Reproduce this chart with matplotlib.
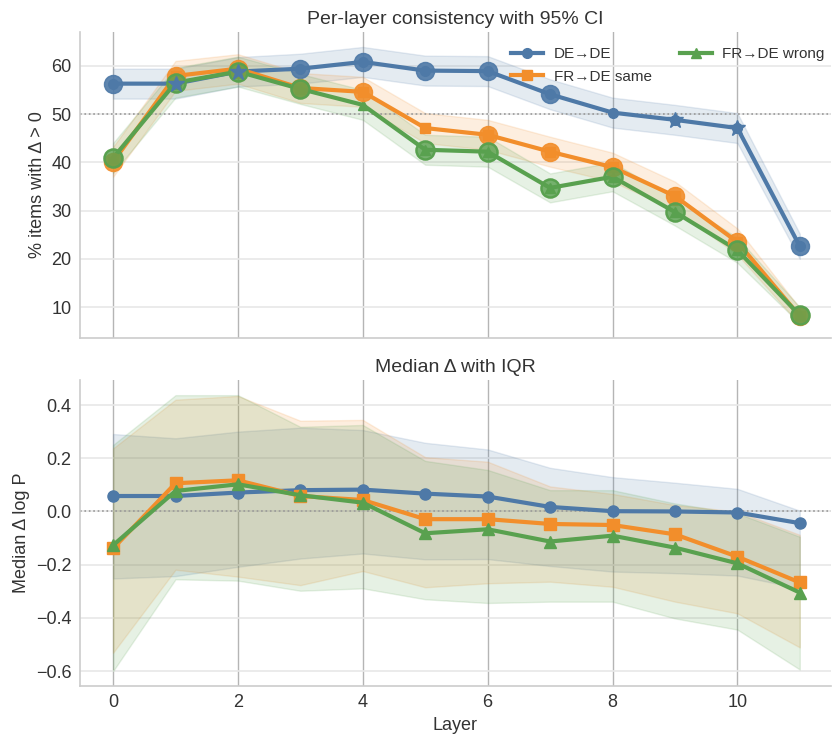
import matplotlib
matplotlib.use("Agg")
import matplotlib.pyplot as plt
import numpy as np
from matplotlib.colors import to_rgba

plt.rcParams['font.family'] = ['Liberation Sans', 'DejaVu Sans']
plt.rcParams['text.color'] = '#333333'
plt.rcParams['axes.labelcolor'] = '#333333'
plt.rcParams['xtick.color'] = '#333333'
plt.rcParams['ytick.color'] = '#333333'

layers = np.arange(12)
names = ['DE→DE', 'FR→DE same', 'FR→DE wrong']
colors = ['#4E79A7', '#F28E2B', '#59A14F']
base_markers = ['o', 's', '^']

# top panel: % items with delta > 0, with 95% CI
pct_de = [56.3, 56.3, 58.8, 59.4, 60.8, 59.0, 58.9, 54.1, 50.3, 48.8, 47.1, 22.6]
pct_de_lo = [53.2, 53.2, 55.7, 56.3, 57.7, 55.9, 55.8, 51.0, 47.2, 45.7, 44.0, 20.0]
pct_de_hi = [59.4, 59.4, 61.8, 62.5, 63.9, 62.1, 62.0, 57.2, 53.4, 51.9, 50.2, 25.2]
pct_same = [40.1, 57.9, 59.4, 55.4, 54.6, 47.1, 45.7, 42.2, 39.0, 33.0, 23.5, 8.1]
pct_same_lo = [37.0, 54.8, 56.3, 52.3, 51.5, 44.0, 42.6, 39.1, 36.0, 30.1, 20.9, 6.4]
pct_same_hi = [43.2, 61.0, 62.4, 58.5, 57.7, 50.2, 48.8, 45.3, 42.0, 36.0, 26.3, 9.8]
pct_wrong = [40.9, 56.5, 58.8, 55.2, 51.9, 42.6, 42.2, 34.7, 37.0, 29.7, 21.8, 8.3]
pct_wrong_lo = [37.8, 53.4, 55.7, 52.1, 48.8, 39.5, 39.1, 31.7, 34.0, 26.9, 19.2, 6.6]
pct_wrong_hi = [44.0, 59.6, 61.9, 58.3, 55.0, 45.7, 45.3, 37.7, 40.0, 32.5, 24.4, 10.0]

# which points get the big circle / star overlay
circle_de = [0, 3, 4, 5, 6, 7, 11]
star_de = [1, 2, 9, 10]
circle_same = [0, 1, 2, 3, 4, 6, 7, 8, 9, 10, 11]
circle_wrong = [0, 1, 2, 3, 5, 6, 7, 8, 9, 10, 11]

# bottom panel: median delta log P with IQR
med_de = [0.058, 0.058, 0.071, 0.080, 0.082, 0.067, 0.056, 0.017, 0.001, 0.000, -0.004, -0.044]
q1_de = [-0.252, -0.243, -0.208, -0.177, -0.158, -0.180, -0.179, -0.205, -0.226, -0.232, -0.241, -0.289]
q3_de = [0.291, 0.275, 0.300, 0.315, 0.306, 0.258, 0.233, 0.164, 0.129, 0.108, 0.085, 0.003]
med_same = [-0.139, 0.106, 0.117, 0.058, 0.043, -0.029, -0.029, -0.047, -0.051, -0.086, -0.170, -0.267]
q1_same = [-0.531, -0.219, -0.245, -0.277, -0.224, -0.285, -0.270, -0.264, -0.283, -0.339, -0.383, -0.511]
q3_same = [0.237, 0.420, 0.434, 0.341, 0.344, 0.204, 0.187, 0.094, 0.066, 0.024, 0.000, -0.088]
med_wrong = [-0.127, 0.077, 0.102, 0.061, 0.033, -0.082, -0.067, -0.113, -0.091, -0.136, -0.195, -0.305]
q1_wrong = [-0.600, -0.255, -0.260, -0.298, -0.289, -0.330, -0.344, -0.339, -0.339, -0.402, -0.444, -0.594]
q3_wrong = [0.250, 0.437, 0.437, 0.318, 0.325, 0.190, 0.156, 0.080, 0.080, 0.030, -0.007, -0.095]

fig = plt.figure(figsize=(8.33, 7.38), dpi=100)
ax1 = fig.add_axes([80 / 833, 1 - 338 / 738, 751 / 833, 306 / 738])
ax2 = fig.add_axes([80 / 833, 1 - 686 / 738, 751 / 833, 306 / 738])


def style(ax):
    ax.set_facecolor('white')
    for s in ['top', 'right']:
        ax.spines[s].set_visible(False)
    for s in ['left', 'bottom']:
        ax.spines[s].set_color('#cccccc')
        ax.spines[s].set_linewidth(1.2)
    ax.yaxis.grid(True, color='#e8e8e8', linewidth=1.2)
    ax.xaxis.grid(True, color='#b5b5b5', linewidth=1.0)
    ax.set_axisbelow(True)
    ax.tick_params(length=0, labelsize=13, pad=6)
    ax.set_xlim(-0.53, 11.5)
    ax.set_xticks(range(0, 12, 2))


style(ax1)
style(ax2)

top_series = [(pct_de, pct_de_lo, pct_de_hi), (pct_same, pct_same_lo, pct_same_hi),
              (pct_wrong, pct_wrong_lo, pct_wrong_hi)]
for (v, lo, hi), c, m, n in zip(top_series, colors, base_markers, names):
    ax1.fill_between(layers, lo, hi, color=c, alpha=0.15, linewidth=1)
    ax1.plot(layers, v, color=c, marker=m, ms=7, lw=3, label=n)

circ_sets = [circle_de, circle_same, circle_wrong]
for (v, lo, hi), c, idx in zip(top_series, colors, circ_sets):
    vv = np.array(v)
    if c == colors[2]:
        ax1.plot(layers[idx], vv[idx], 'o', ms=13, mfc=to_rgba(c, 0.8), mec=c,
                 mew=1.8, zorder=4)
    else:
        ax1.plot(layers[idx], vv[idx], 'o', ms=13, color=c, mec=c, alpha=0.9, zorder=4)
vd = np.array(pct_de)
ax1.plot(layers[star_de], vd[star_de], '*', ms=12, color=colors[0], zorder=6)

ax1.axhline(50, color='#999999', ls=':', lw=1.2, zorder=1)
ax1.set_ylim(3.6, 67)
ax1.set_yticks([10, 20, 30, 40, 50, 60])
ax1.set_xticklabels([])
ax1.set_ylabel('% items with Δ > 0', fontsize=13)
ax1.set_title('Per-layer consistency with 95% CI', fontsize=14, pad=6)
leg = ax1.legend(ncol=2, loc='upper right', frameon=False, fontsize=11,
                 bbox_to_anchor=(1.01, 0.995), handlelength=2.1, columnspacing=1.8,
                 labelspacing=0.55, handletextpad=0.7)

bottom_series = [(med_de, q1_de, q3_de), (med_same, q1_same, q3_same),
                 (med_wrong, q1_wrong, q3_wrong)]
for (v, lo, hi), c, m in zip(bottom_series, colors, base_markers):
    ax2.fill_between(layers, lo, hi, color=c, alpha=0.15, linewidth=1)
for (v, lo, hi), c, m in zip(bottom_series, colors, base_markers):
    ax2.plot(layers, v, color=c, marker=m, ms=8, lw=3)

ax2.axhline(0, color='#999999', ls=':', lw=1.2, zorder=1)
ax2.set_ylim(-0.656, 0.494)
ax2.set_yticks([-0.6, -0.4, -0.2, 0.0, 0.2, 0.4])
ax2.set_yticklabels(['−0.6', '−0.4', '−0.2', '0.0', '0.2', '0.4'])
ax2.set_ylabel('Median Δ log P', fontsize=13)
ax2.set_xlabel('Layer', fontsize=13)
ax2.set_title('Median Δ with IQR', fontsize=14, pad=6)

fig.savefig('out.png', dpi=100)
